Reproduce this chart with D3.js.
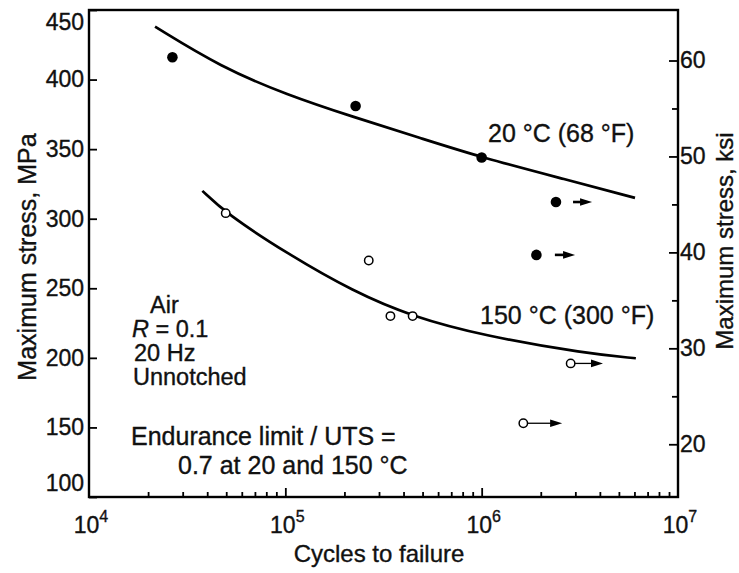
<!DOCTYPE html>
<html>
<head>
<meta charset="utf-8">
<script src="https://cdn.jsdelivr.net/npm/d3@7"></script>
<style>
  body { margin: 0; background: #fff; }
  svg { display: block; font-family: "Liberation Sans", Arial, sans-serif; }
  text { stroke: #111; stroke-width: 0.35px; }
</style>
</head>
<body>
<svg width="739" height="573"></svg>
<script>
// 20 C test points (filled)
const roomCycles = [2.66e4, 2.28e5, 1.0e6, 2.39e6, 1.9e6];
const roomStress = [416, 381, 344, 312, 274];
// 150 C test points (open)
const hotCycles = [4.97e4, 2.66e5, 3.43e5, 4.45e5, 2.84e6, 1.63e6];
const hotStress = [304, 270, 230, 230, 196, 153];

// fitted S-N curves
const roomCurveCycles = [2.17e4, 4.69e4, 1.02e5, 2.23e5, 4.87e5, 1.0e6, 2.71e6, 6.04e6];
const roomCurveStress = [438, 409, 389, 373, 358, 344, 328, 315];
const hotCurveCycles = [3.78e4, 4.97e4, 1.02e5, 2.23e5, 4.45e5, 1.02e6, 3.43e6, 6.1e6];
const hotCurveStress = [320, 304, 275, 247.5, 229.6, 216, 203, 199.7];

// run-out arrows (no failure)
const runoutFrom = [2.92e6, 2.36e6, 2.84e6, 1.63e6];
const runoutTo = [3.65e6, 2.99e6, 4.15e6, 2.57e6];
const runoutStress = [312, 274, 196, 153];
const runoutAttached = [false, false, true, true];

const stressTicks = [100, 150, 200, 250, 300, 350, 400, 450];
const ksiTicks = [20, 30, 40, 50, 60];
const ksiMinor = [25, 35, 45, 55];
const cycleDecades = [1e4, 1e5, 1e6, 1e7];
const testNotes = ["Air", "R = 0.1", "20 Hz", "Unnotched"];
const MPA_PER_KSI = 6.895;

const svg = d3.select("svg");
const plotL = 89, plotR = 678, plotT = 10, plotB = 497;

const x = d3.scaleLog().domain([1e4, 1e7]).range([plotL, plotR]);
const y = d3.scaleLinear().domain([100, 450]).range([plotB, plotT]);
const yKsi = d3.scaleLinear()
  .domain([100 / MPA_PER_KSI, 450 / MPA_PER_KSI])
  .range([plotB, plotT]);

function styleAxis(g) {
  g.select(".domain").remove();
  g.selectAll("line").attr("stroke", "#000").attr("stroke-width", 1.8);
  g.selectAll("text").attr("font-size", 23).attr("fill", "#111")
    .attr("font-family", "Liberation Sans, Arial, sans-serif");
}

// left axis, MPa
svg.append("g")
  .attr("transform", "translate(" + plotL + ",0)")
  .call(d3.axisLeft(y).tickValues(stressTicks).tickSize(-8).tickPadding(5))
  .call(styleAxis)
  .selectAll("text")
  .attr("dy", function (d) {
    if (d == 450) return "0.85em";
    if (d == 100) return "-0.3em";
    return "0.32em";
  });

// right axis, ksi
svg.append("g")
  .attr("transform", "translate(" + plotR + ",0)")
  .call(d3.axisRight(yKsi).tickValues(ksiMinor).tickSize(-6).tickFormat(""))
  .call(styleAxis);
svg.append("g")
  .attr("transform", "translate(" + plotR + ",0)")
  .call(d3.axisRight(yKsi).tickValues(ksiTicks).tickSize(-9).tickPadding(2))
  .call(styleAxis);

// bottom axis, log cycles
const minorCycles = [];
[1e4, 1e5, 1e6].forEach(function (d) {
  for (let k = 2; k <= 9; k++) minorCycles.push(d * k);
});
svg.append("g")
  .attr("transform", "translate(0," + plotB + ")")
  .call(d3.axisBottom(x).tickValues(minorCycles).tickSize(-5).tickFormat(""))
  .call(styleAxis);
svg.append("g")
  .attr("transform", "translate(0," + plotB + ")")
  .call(d3.axisBottom(x).tickValues([1e5, 1e6]).tickSize(-9).tickFormat(""))
  .call(styleAxis);

const decadeLabels = svg.append("g").attr("font-size", 23).attr("fill", "#111")
  .selectAll("text")
  .data(cycleDecades)
  .enter()
  .append("text")
  .attr("x", function (d) { return x(d) + 2; })
  .attr("y", 533)
  .attr("text-anchor", "middle");
decadeLabels.append("tspan").text("10");
decadeLabels.append("tspan")
  .attr("font-size", 16)
  .attr("dy", -11)
  .text(function (d) { return Math.round(Math.log10(d)); });

// frame
svg.append("rect")
  .attr("x", plotL).attr("y", plotT)
  .attr("width", plotR - plotL).attr("height", plotB - plotT)
  .attr("fill", "none").attr("stroke", "#000").attr("stroke-width", 2.4);

// axis titles
svg.append("text")
  .attr("transform", "translate(379,562)")
  .attr("text-anchor", "middle")
  .attr("font-size", 24).attr("fill", "#111")
  .text("Cycles to failure");
svg.append("text")
  .attr("transform", "translate(36,257) rotate(-90)")
  .attr("text-anchor", "middle")
  .attr("font-size", 25).attr("fill", "#111")
  .text("Maximum stress, MPa");
svg.append("text")
  .attr("transform", "translate(733,241) rotate(-90)")
  .attr("text-anchor", "middle")
  .attr("font-size", 24).attr("fill", "#111")
  .text("Maximum stress, ksi");

// curves
const line = d3.line()
  .x(function (d) { return x(d[0]); })
  .y(function (d) { return y(d[1]); })
  .curve(d3.curveBasis);

svg.append("path")
  .datum(d3.zip(roomCurveCycles, roomCurveStress))
  .attr("d", line)
  .attr("fill", "none").attr("stroke", "#000").attr("stroke-width", 2.7);
svg.append("path")
  .datum(d3.zip(hotCurveCycles, hotCurveStress))
  .attr("d", line)
  .attr("fill", "none").attr("stroke", "#000").attr("stroke-width", 2.7);

// run-out arrows
const runouts = d3.range(runoutFrom.length).map(function (i) {
  return { from: runoutFrom[i], to: runoutTo[i], s: runoutStress[i], attached: runoutAttached[i] };
});
const headLen = 12, headW = 3.8;
svg.append("g")
  .selectAll("path")
  .data(runouts)
  .enter()
  .append("path")
  .attr("d", function (d) {
    const x0 = x(d.from) + (d.attached ? 4 : 0), x1 = x(d.to) - headLen + 1, yy = y(d.s);
    return "M" + x0 + "," + yy + "L" + x1 + "," + yy;
  })
  .attr("stroke", "#000").attr("stroke-width", function (d) { return d.attached ? 1.3 : 2.6; });
svg.append("g")
  .selectAll("path")
  .data(runouts)
  .enter()
  .append("path")
  .attr("d", function (d) {
    const x1 = x(d.to), yy = y(d.s);
    return "M" + x1 + "," + yy + "L" + (x1 - headLen) + "," + (yy - headW) +
      "L" + (x1 - headLen) + "," + (yy + headW) + "Z";
  })
  .attr("fill", "#000");

// points
svg.append("g")
  .selectAll("circle")
  .data(d3.zip(roomCycles, roomStress))
  .enter()
  .append("circle")
  .attr("cx", function (d) { return x(d[0]); })
  .attr("cy", function (d) { return y(d[1]); })
  .attr("r", 5.3)
  .attr("fill", "#000");

svg.append("g")
  .selectAll("circle")
  .data(d3.zip(hotCycles, hotStress))
  .enter()
  .append("circle")
  .attr("cx", function (d) { return x(d[0]); })
  .attr("cy", function (d) { return y(d[1]); })
  .attr("r", 4.2)
  .attr("fill", "#fff")
  .attr("stroke", "#000")
  .attr("stroke-width", 1.5);

// annotations
const notes = svg.append("g").attr("fill", "#111");
const noteX = [150, 132, 134, 133];
notes.selectAll("text.cond")
  .data(testNotes)
  .enter()
  .append("text")
  .attr("class", "cond")
  .attr("font-size", 23.5)
  .attr("x", function (d, i) { return noteX[i]; })
  .attr("y", function (d, i) { return 313 + i * 24; })
  .each(function (d) {
    const t = d3.select(this);
    if (d.charAt(0) == "R") {
      t.append("tspan").attr("font-style", "italic").text("R");
      t.append("tspan").text(d.slice(1));
    } else {
      t.text(d);
    }
  });
notes.append("text").attr("font-size", 25).attr("x", 131).attr("y", 445).text("Endurance limit / UTS =");
notes.append("text").attr("font-size", 25).attr("x", 178).attr("y", 474).text("0.7 at 20 and 150 \u00b0C");
notes.append("text").attr("font-size", 25).attr("x", 488).attr("y", 142).text("20 \u00b0C (68 \u00b0F)");
notes.append("text").attr("font-size", 25).attr("x", 480).attr("y", 324).text("150 \u00b0C (300 \u00b0F)");
</script>
</body>
</html>
